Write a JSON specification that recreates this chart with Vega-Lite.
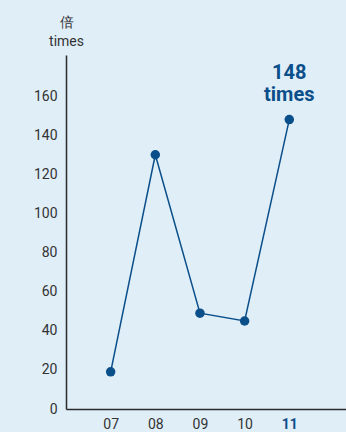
{
  "$schema": "https://vega.github.io/schema/vega-lite/v6.json",
  "autosize": "none",
  "width": 280,
  "height": 354,
  "padding": {"left": 66, "top": 55, "right": 0, "bottom": 23},
  "background": "#e0eef8",
  "config": {
    "view": {"stroke": null},
    "font": "Roboto",
    "axis": {
      "domainColor": "#2b2b2b",
      "domainWidth": 1.5,
      "ticks": false,
      "grid": false,
      "labelFont": "Roboto",
      "labelFontSize": 14,
      "labelColor": "#333333"
    }
  },
  "data": {
    "values": [
      {"month": 7, "value": 19, "label": ""},
      {"month": 8, "value": 130, "label": ""},
      {"month": 9, "value": 49, "label": ""},
      {"month": 10, "value": 45, "label": ""},
      {"month": 11, "value": 148, "label": "148\ntimes"}
    ]
  },
  "encoding": {
    "x": {
      "field": "month",
      "type": "quantitative",
      "scale": {"domain": [6, 12.27], "nice": false, "zero": false},
      "axis": {
        "title": null,
        "values": [7, 8, 9, 10, 11],
        "labelExpr": "datum.value < 10 ? '0' + datum.value : '' + datum.value",
        "labelPadding": 8,
        "labelColor": {"condition": {"test": "datum.value == 11", "value": "#0b4f8a"}, "value": "#333333"},
        "labelFontWeight": {"condition": {"test": "datum.value == 11", "value": "bold"}, "value": "normal"}
      }
    },
    "y": {
      "field": "value",
      "type": "quantitative",
      "scale": {"domain": [0, 181], "nice": false},
      "axis": {
        "values": [0, 20, 40, 60, 80, 100, 120, 140, 160],
        "labelPadding": 9,
        "title": ["倍", "times"],
        "titleAngle": 0,
        "titleAlign": "center",
        "titleBaseline": "bottom",
        "titleX": 0,
        "titleY": -26,
        "titleFont": "Roboto",
        "titleFontSize": 14,
        "titleFontWeight": "normal",
        "titleColor": "#333333",
        "titleLineHeight": 19
      }
    }
  },
  "layer": [
    {"mark": {"type": "line", "color": "#0b4f8a", "strokeWidth": 1.5}},
    {"mark": {"type": "circle", "color": "#0b4f8a", "opacity": 1, "size": 90}},
    {
      "mark": {
        "type": "text",
        "color": "#0b4f8a",
        "fontSize": 20,
        "fontWeight": "bold",
        "font": "Roboto",
        "align": "center",
        "baseline": "alphabetic",
        "lineBreak": "\n",
        "lineHeight": 22,
        "dy": -41
      },
      "encoding": {"text": {"field": "label"}}
    }
  ]
}
